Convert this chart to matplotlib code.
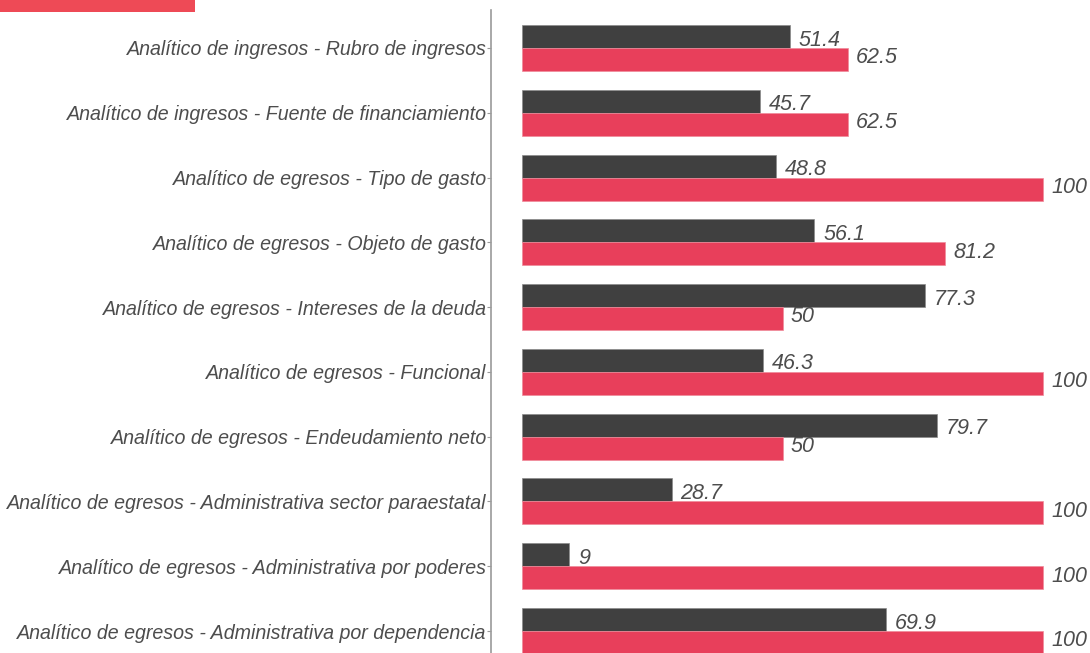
import matplotlib
matplotlib.use("Agg")
import matplotlib.pyplot as plt
import numpy as np
from matplotlib.patches import Rectangle

categories = [
    "Analítico de ingresos - Rubro de ingresos",
    "Analítico de ingresos - Fuente de financiamiento",
    "Analítico de egresos - Tipo de gasto",
    "Analítico de egresos - Objeto de gasto",
    "Analítico de egresos - Intereses de la deuda",
    "Analítico de egresos - Funcional",
    "Analítico de egresos - Endeudamiento neto",
    "Analítico de egresos - Administrativa sector paraestatal",
    "Analítico de egresos - Administrativa por poderes",
    "Analítico de egresos - Administrativa por dependencia",
]
dark_values = [51.4, 45.7, 48.8, 56.1, 77.3, 46.3, 79.7, 28.7, 9, 69.9]
red_values = [62.5, 62.5, 100, 81.2, 50, 100, 50, 100, 100, 100]

DARK = "#404040"
RED = "#e83f5b"
TXT = "#4d4d4d"

W, H = 1090, 653
fig = plt.figure(figsize=(W / 100, H / 100), dpi=100)
ax = fig.add_axes([491 / W, 0, 1 - 491 / W, 1 - 10 / H])

y = np.arange(len(categories))
bh = 0.355
ax.barh(y - bh / 2, dark_values, height=bh, color=DARK, edgecolor="#8a8a8a", linewidth=0.5)
ax.barh(y + bh / 2, red_values, height=bh, color=RED, edgecolor="#f08a9a", linewidth=0.5)

px = 100 / 521.0
for yi, v in zip(y, dark_values):
    ax.text(v + 9 * px, yi + 0.04, f"{v:g}", ha="left", va="bottom", fontsize=15.5,
            style="italic", color=TXT, family="Liberation Sans", clip_on=False)
for yi, v in zip(y, red_values):
    ax.text(v + 8 * px, yi - 0.01, f"{v:g}", ha="left", va="top", fontsize=15.5,
            style="italic", color=TXT, family="Liberation Sans", clip_on=False)

ax.set_xlim(-31 * px, (W - 522) * px)
ax.set_ylim(9 + 22 / 64.78, -38 / 64.78)
ax.set_yticks(y)
ax.set_yticklabels(categories, fontsize=14.1, style="italic", color=TXT, family="Liberation Sans")
ax.set_xticks([])
for s in ["top", "right", "bottom"]:
    ax.spines[s].set_visible(False)
ax.spines["left"].set_color("#9a9a9a")
ax.spines["left"].set_linewidth(1.2)
ax.tick_params(axis="y", length=3, width=0.8, color="#9a9a9a", pad=0)

fig.patches.append(Rectangle((0, 1 - 12 / H), 195 / W, 12 / H, transform=fig.transFigure,
                             facecolor="#ee4a56", edgecolor="none"))

fig.savefig("out.png", dpi=100)
